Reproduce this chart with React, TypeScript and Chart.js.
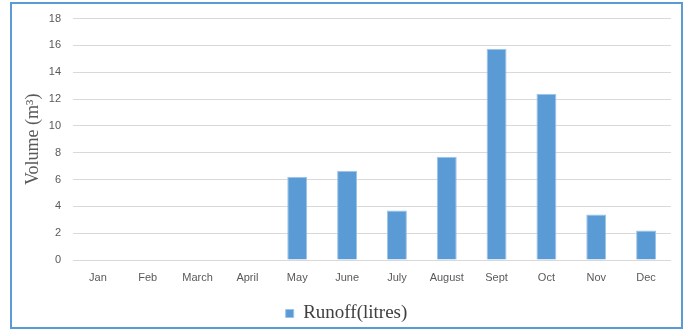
import React, { useEffect, useRef } from "react";
import { Chart, registerables } from "chart.js";

Chart.register(...registerables);

const months = ["Jan", "Feb", "March", "April", "May", "June", "July", "August", "Sept", "Oct", "Nov", "Dec"];
const runoff = [0, 0, 0, 0, 6.2, 6.65, 3.7, 7.7, 15.75, 12.4, 3.4, 2.2];
const seriesLabel = "Runoff(litres)";
const yTitle = "Volume (m³)";
const yMin = 0;
const yMax = 18;
const yStep = 2;

const legendShift = {
  id: "legendShift",
  afterLayout(chart: any) {
    const l = chart.legend;
    if (l) {
      l.left += 11;
      l.right += 11;
    }
  },
};

export default function App() {
  const ref = useRef<HTMLCanvasElement | null>(null);

  useEffect(() => {
    if (!ref.current) return;
    const chart = new Chart(ref.current, {
      type: "bar",
      data: {
        labels: months,
        datasets: [
          {
            label: seriesLabel,
            data: runoff,
            backgroundColor: "#5B9BD5",
            borderColor: "#9DC3E6",
            borderWidth: 1,
            barPercentage: 0.4,
            categoryPercentage: 1,
          },
        ],
      },
      plugins: [legendShift],
      options: {
        responsive: false,
        animation: false,
        layout: { padding: { left: 0, right: 17, top: 15, bottom: 0 } },
        plugins: {
          tooltip: { enabled: false },
          legend: {
            position: "bottom",
            labels: {
              boxWidth: 8,
              boxHeight: 8,
              padding: 16,
              color: "#404040",
              font: { family: "'Liberation Serif', 'Times New Roman', serif", size: 19 },
            },
          },
        },
        scales: {
          x: {
            grid: { display: false, drawTicks: false },
            border: { display: false },
            ticks: {
              color: "#595959",
              padding: 11,
              maxRotation: 0,
              autoSkip: false,
              font: { family: "'Liberation Sans', Arial, sans-serif", size: 11 },
            },
            afterFit: (s: any) => {
              s.height = 28;
            },
          },
          y: {
            min: yMin,
            max: yMax,
            border: { display: false },
            grid: { color: "#D9D9D9", lineWidth: 1, drawTicks: false },
            ticks: {
              stepSize: yStep,
              color: "#595959",
              padding: 12,
              font: { family: "'Liberation Sans', Arial, sans-serif", size: 11 },
            },
            title: {
              display: true,
              text: yTitle,
              color: "#595959",
              padding: { top: 22, bottom: 0 },
              font: { family: "'Liberation Serif', 'Times New Roman', serif", size: 18 },
            },
            afterFit: (s: any) => {
              s.width = 73;
            },
          },
        },
      },
    });
    return () => chart.destroy();
  }, []);

  return (
    <div style={{ position: "fixed", left: 0, top: 0, width: 688, height: 329, background: "#fff", overflow: "hidden" }}>
      <canvas ref={ref} width={688} height={333} style={{ position: "absolute", left: 0, top: 0, display: "block" }} />
      <div
        style={{
          position: "absolute",
          left: 10,
          top: 2,
          width: 673,
          height: 327,
          border: "2px solid #5B9BD5",
          boxSizing: "border-box",
          pointerEvents: "none",
        }}
      />
    </div>
  );
}
